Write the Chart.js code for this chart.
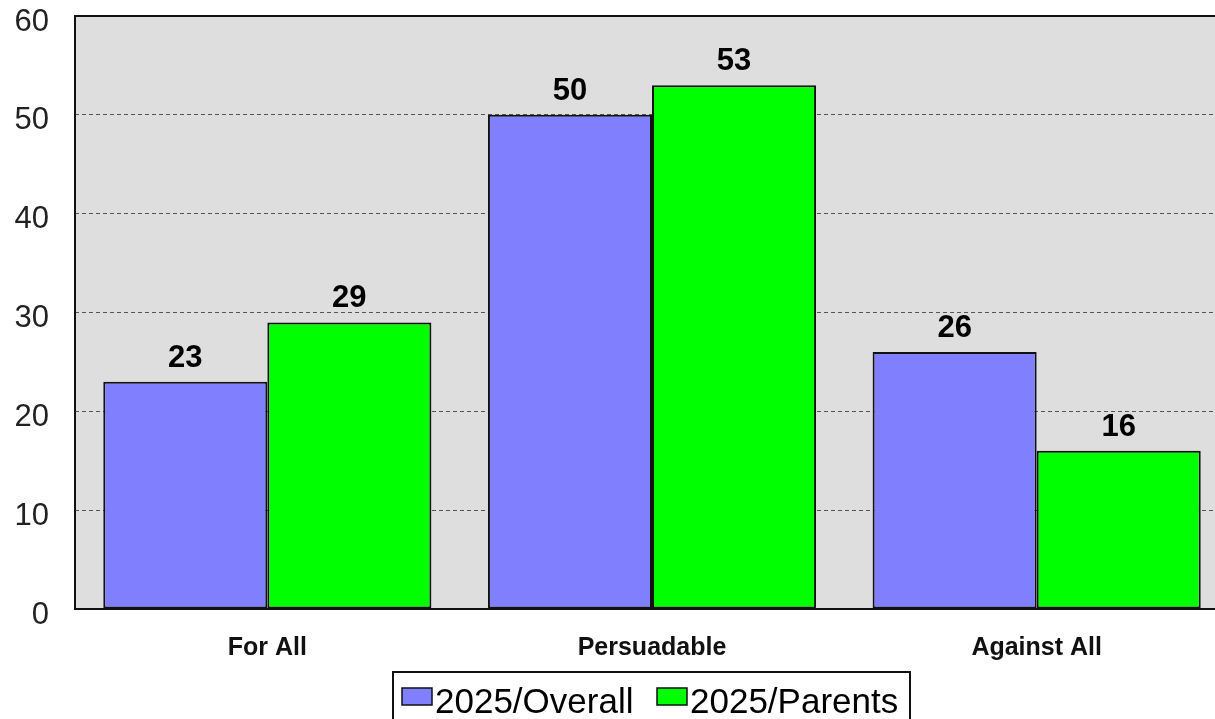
<!DOCTYPE html>
<html>
<head>
<meta charset="utf-8">
<script src="https://cdn.jsdelivr.net/npm/chart.js@4/dist/chart.umd.min.js"></script>
<style>
  html, body { margin: 0; padding: 0; background: #ffffff; overflow: hidden; }
  #wrap { position: relative; width: 1232px; height: 719px; }
</style>
</head>
<body>
<div id="wrap"><canvas id="chart"></canvas></div>
<script>
// Survey groups and their percentages
const categories = ['For All', 'Persuadable', 'Against All'];
const overallValues = [23, 50, 26];
const parentsValues = [29, 53, 16];
const seriesNames = ['2025/Overall', '2025/Parents'];
const yTickValues = [0, 10, 20, 30, 40, 50, 60];

const FONT = '"Liberation Sans", Arial, Helvetica, sans-serif';
const BLUE = '#8080ff';
const GREEN = '#00ff00';

// Gray plot background
const plotBackground = {
  id: 'plotBackground',
  beforeDraw(chart) {
    const { ctx, chartArea: a } = chart;
    ctx.save();
    ctx.fillStyle = '#dedede';
    ctx.fillRect(a.left, a.top, a.right - a.left, a.bottom - a.top);
    ctx.restore();
  }
};

// Solid frame on left, top and bottom plus value labels above each bar
const frameAndLabels = {
  id: 'frameAndLabels',
  afterDatasetsDraw(chart) {
    const { ctx, chartArea: a } = chart;
    ctx.save();
    ctx.strokeStyle = '#111111';
    ctx.lineWidth = 2;
    ctx.beginPath();
    ctx.moveTo(a.right + 5, a.top);
    ctx.lineTo(a.left, a.top);
    ctx.lineTo(a.left, a.bottom);
    ctx.lineTo(a.right + 5, a.bottom);
    ctx.stroke();

    ctx.fillStyle = '#000000';
    ctx.font = 'bold 31px ' + FONT;
    ctx.textAlign = 'center';
    ctx.textBaseline = 'alphabetic';
    chart.data.datasets.forEach((ds, i) => {
      chart.getDatasetMeta(i).data.forEach((bar, j) => {
        ctx.fillText(String(ds.data[j]), bar.x, bar.y - 15);
      });
    });
    ctx.restore();
  }
};

// Boxed legend below the category labels
const boxedLegend = {
  id: 'boxedLegend',
  afterDraw(chart) {
    const { ctx } = chart;
    ctx.save();
    ctx.strokeStyle = '#111111';
    ctx.lineWidth = 2;
    ctx.strokeRect(393, 672, 517, 70);

    ctx.font = '35px ' + FONT;
    ctx.textBaseline = 'alphabetic';
    ctx.textAlign = 'left';
    const items = [
      { x: 402, color: BLUE, text: seriesNames[0] },
      { x: 657, color: GREEN, text: seriesNames[1] }
    ];
    items.forEach(it => {
      ctx.fillStyle = it.color;
      ctx.fillRect(it.x, 688, 30, 17);
      ctx.lineWidth = 1.5;
      ctx.strokeStyle = '#111111';
      ctx.strokeRect(it.x, 688, 30, 17);
      ctx.fillStyle = '#000000';
      ctx.fillText(it.text, it.x + 33, 713);
    });
    ctx.restore();
  }
};

new Chart(document.getElementById('chart'), {
  type: 'bar',
  data: {
    labels: categories,
    datasets: [
      {
        label: seriesNames[0],
        data: overallValues,
        backgroundColor: BLUE,
        borderColor: '#111111',
        borderWidth: 2,
        borderSkipped: false
      },
      {
        label: seriesNames[1],
        data: parentsValues,
        backgroundColor: GREEN,
        borderColor: '#111111',
        borderWidth: 2,
        borderSkipped: false
      }
    ]
  },
  options: {
    responsive: true,
    maintainAspectRatio: false,
    animation: false,
    events: [],
    layout: { padding: { top: 16, right: 3, left: 0, bottom: 0 } },
    datasets: {
      bar: { categoryPercentage: 0.853, barPercentage: 1.0 }
    },
    plugins: {
      legend: { display: false },
      tooltip: { enabled: false }
    },
    scales: {
      x: {
        grid: { display: false, drawTicks: false },
        border: { display: false },
        ticks: {
          padding: 24,
          color: '#111111',
          font: { family: FONT, size: 25, weight: 'bold' }
        },
        afterFit(scale) {
          scale.height = 110;
          scale.paddingLeft = 0;
          scale.paddingRight = 0;
        }
      },
      y: {
        min: 0,
        max: 60,
        afterBuildTicks(scale) {
          scale.ticks = yTickValues.map(v => ({ value: v }));
        },
        grid: {
          drawTicks: false,
          color: ctx => (ctx.tick && (ctx.tick.value === 0 || ctx.tick.value === 60)) ? 'rgba(0,0,0,0)' : '#555555',
          lineWidth: 1
        },
        border: { display: false, dash: [4, 3] },
        ticks: {
          padding: 26,
          labelOffset: 6,
          color: '#222222',
          font: { family: FONT, size: 31 }
        },
        afterFit(scale) {
          scale.width = 75;
          scale.paddingTop = 0;
          scale.paddingBottom = 0;
        }
      }
    }
  },
  plugins: [plotBackground, frameAndLabels, boxedLegend]
});
</script>
</body>
</html>
